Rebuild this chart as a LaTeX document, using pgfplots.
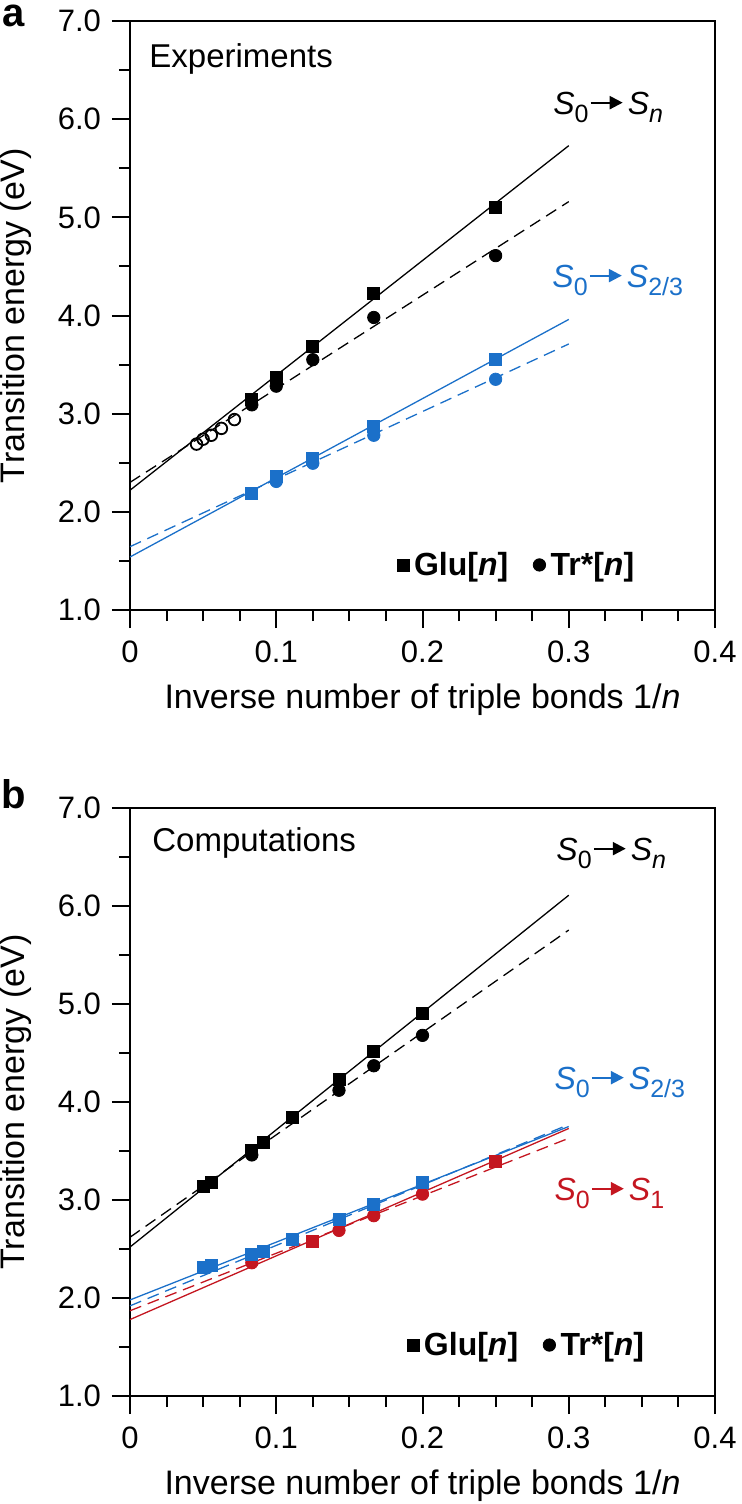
\documentclass[border=0pt]{standalone}
\usepackage{fontspec}
\setmainfont{Liberation Sans}
\usepackage{pgfplots}
\pgfplotsset{compat=1.18}
\usetikzlibrary{arrows.meta}
\definecolor{cblue}{RGB}{27,112,201}
\definecolor{cred}{RGB}{196,22,32}
\newcommand{\tarr}[1]{\tikz[baseline={(0pt,-5.7pt)}]\draw[#1,line width=1.1pt,-{Triangle[length=6.5pt,width=6.5pt]}] (0pt,0pt)--(16pt,0pt);}
\newcommand{\lf}{\fontsize{16}{19}\selectfont}
\newcommand{\sub}[1]{\raisebox{-4pt}{\fontsize{12.5}{14}\selectfont #1}}
\newcommand{\trans}[2]{{\lf\textit{S}\sub{0}\kern0.5pt\tarr{#1}\kern2pt\textit{S}\sub{#2}}}
\pgfplotsset{myaxis/.style={
  scale only axis, width=292.5pt, height=294.5pt,
  xmin=0, xmax=0.4, ymin=1, ymax=7,
  xtick={0,0.1,0.2,0.3,0.4}, xticklabels={0,0.1,0.2,0.3,0.4},
  ytick={1,2,3,4,5,6,7}, yticklabels={1.0,2.0,3.0,4.0,5.0,6.0,7.0},
  minor xtick={0.025,0.05,0.075,0.125,0.15,0.175,0.225,0.25,0.275,0.325,0.35,0.375},
  minor ytick={1.5,2.5,3.5,4.5,5.5,6.5},
  xtick pos=left, ytick pos=left,
  xtick align=outside, ytick align=outside,
  major tick length=9pt, minor tick length=5.5pt,
  tick style={black, line width=1pt},
  axis line style={line width=1.3pt},
  ticklabel style={font=\fontsize{15.5}{18}\selectfont},
  xticklabel style={yshift=-3pt},
  yticklabel style={xshift=-2pt},
  label style={font=\fontsize{17}{20}\selectfont},
  xlabel={Inverse number of triple bonds 1/\textit{n}},
  ylabel={Transition energy (eV)},
  xlabel style={at={(axis description cs:0.5,0)}, anchor=center, yshift=-45pt},
  ylabel style={at={(axis description cs:0,0.5)}, anchor=center, yshift=57pt},
  fitline/.style={line width=0.65pt, no markers},
  dashfit/.style={line width=0.65pt, no markers, dash pattern=on 6pt off 3.5pt},
  sq/.style={only marks, mark=square*, mark size=3pt},
  ci/.style={only marks, mark=*, mark size=3.1pt},
  legend columns=2,
  legend image code/.code={\draw[##1] plot coordinates {(0pt,0pt)};},
}}
\begin{document}
\begin{tikzpicture}
\useasboundingbox (0pt,0pt) rectangle (370.5pt,-752pt);
\node[font=\bfseries\fontsize{20}{22}\selectfont, inner sep=0pt] at (7pt,-8pt) {a};
\node[font=\bfseries\fontsize{20}{22}\selectfont, inner sep=0pt] at (7pt,-397pt) {b};
% ---------------- panel a
\begin{axis}[myaxis, at={(65pt,-305pt)}, anchor=south west,
  legend style={at={(axis description cs:0.4565,0.0765)}, anchor=west, draw=none, fill=none,
    inner sep=0pt, outer sep=0pt, font=\bfseries\fontsize{16}{19}\selectfont,
    nodes={inner sep=2.5pt}, /tikz/every even column/.append style={column sep=10pt}}]
\addplot[fitline, black, forget plot] coordinates {(0,2.22) (0.3,5.73)};
\addplot[dashfit, black, forget plot] coordinates {(0,2.30) (0.3,5.16)};
\addplot[fitline, cblue, forget plot] coordinates {(0,1.54) (0.3,3.96)};
\addplot[dashfit, cblue, forget plot] coordinates {(0,1.645) (0.3,3.71)};
\addplot[only marks, mark=o, mark size=2.9pt, mark options={line width=0.9pt, fill=white}, black, forget plot]
  coordinates {(0.0455,2.69) (0.0500,2.74) (0.0556,2.78) (0.0625,2.85) (0.0714,2.94)};
\addplot[ci, cblue, forget plot] coordinates {(0.1,2.31) (0.125,2.495) (0.1667,2.78) (0.25,3.35)};
\addplot[sq, cblue, forget plot] coordinates {(0.0833,2.19) (0.1,2.365) (0.125,2.54) (0.1667,2.875) (0.25,3.557)};
\addplot[ci, black, forget plot] coordinates {(0.0833,3.09) (0.1,3.28) (0.125,3.55) (0.1667,3.98) (0.25,4.61)};
\addplot[sq, black] coordinates {(0.0833,3.15) (0.1,3.37) (0.125,3.69) (0.1667,4.23) (0.25,5.105)};
\addlegendentry{Glu[\textit{n}]}
\addplot[ci, black] coordinates {(0.4,0)};
\addlegendentry{Tr*[\textit{n}]}
\node[anchor=west, inner sep=0pt, font=\fontsize{16.5}{19}\selectfont] at (axis cs:0.013,6.61) {Experiments};
\node[anchor=west, inner sep=0pt] at (axis cs:0.2892,6.124) {\trans{black}{\textit{n}}};
\node[anchor=west, inner sep=0pt, text=cblue] at (axis cs:0.2886,4.362) {\trans{cblue}{2/3}};
\end{axis}
% ---------------- panel b
\begin{axis}[myaxis, at={(65pt,-698pt)}, anchor=south west, height=294pt,
  legend style={at={(axis description cs:0.4735,0.0867)}, anchor=west, draw=none, fill=none,
    inner sep=0pt, outer sep=0pt, font=\bfseries\fontsize{16}{19}\selectfont,
    nodes={inner sep=2.5pt}, /tikz/every even column/.append style={column sep=10pt}}]
\addplot[fitline, black, forget plot] coordinates {(0,2.52) (0.3,6.11)};
\addplot[dashfit, black, forget plot] coordinates {(0,2.62) (0.3,5.755)};
\addplot[fitline, cblue, forget plot] coordinates {(0,1.98) (0.3,3.75)};
\addplot[dashfit, cblue, forget plot] coordinates {(0,1.92) (0.3,3.77)};
\addplot[fitline, cred, forget plot] coordinates {(0,1.78) (0.3,3.73)};
\addplot[dashfit, cred, forget plot] coordinates {(0,1.87) (0.3,3.63)};
\addplot[ci, cblue, forget plot] coordinates {(0.0833,2.43) (0.1429,2.80) (0.1667,2.95) (0.2,3.15)};
\addplot[ci, cred, forget plot] coordinates {(0.0833,2.36) (0.1429,2.69) (0.1667,2.84) (0.2,3.06)};
\addplot[sq, cred, forget plot] coordinates {(0.125,2.58) (0.25,3.39)};
\addplot[sq, cblue, forget plot] coordinates {(0.05,2.31) (0.0556,2.33) (0.0833,2.44) (0.0909,2.48) (0.1111,2.595) (0.1429,2.80) (0.1667,2.96) (0.2,3.18)};
\addplot[ci, black, forget plot] coordinates {(0.0833,3.46) (0.1429,4.12) (0.1667,4.37) (0.2,4.68)};
\addplot[sq, black] coordinates {(0.05,3.14) (0.0556,3.18) (0.0833,3.51) (0.0909,3.59) (0.1111,3.84) (0.1429,4.23) (0.1667,4.52) (0.2,4.905)};
\addlegendentry{Glu[\textit{n}]}
\addplot[ci, black] coordinates {(0.4,0)};
\addlegendentry{Tr*[\textit{n}]}
\node[anchor=west, inner sep=0pt, font=\fontsize{16.5}{19}\selectfont] at (axis cs:0.015,6.643) {Computations};
\node[anchor=west, inner sep=0pt] at (axis cs:0.2913,6.541) {\trans{black}{\textit{n}}};
\node[anchor=west, inner sep=0pt, text=cblue] at (axis cs:0.29,4.204) {\trans{cblue}{2/3}};
\node[anchor=west, inner sep=0pt, text=cred] at (axis cs:0.29,3.071) {\trans{cred}{1}};
\end{axis}
\end{tikzpicture}
\end{document}
